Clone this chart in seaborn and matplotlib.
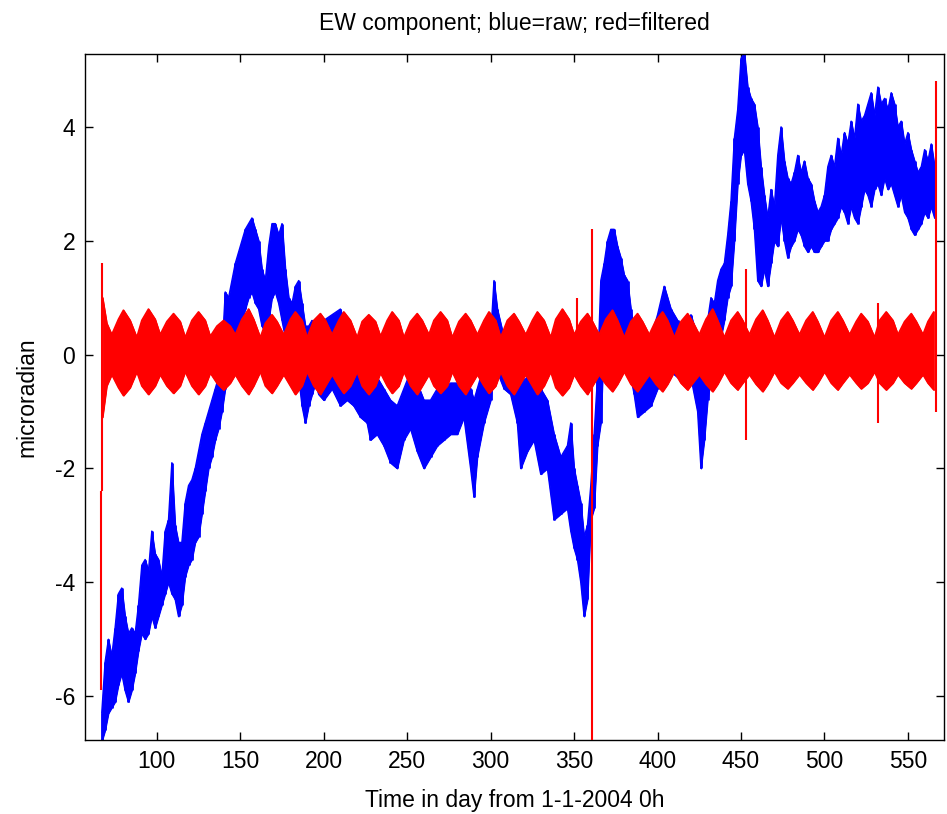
import numpy as np
import pandas as pd
import matplotlib
matplotlib.use("Agg")
import matplotlib.pyplot as plt
import seaborn as sns

# Raw (blue) signal envelope: day, lower, upper
blue_days = [67, 69, 71, 73, 75, 77, 79, 81, 83, 85, 87, 89, 91, 93, 95, 97, 99,
             101, 103, 105, 107, 109, 111, 113, 115, 117, 119, 121, 123, 125, 127,
             129, 131, 133, 135, 137, 139, 141, 143, 145, 147, 149, 151, 153, 155,
             157, 159, 161, 163, 165, 167, 169, 171, 173, 175, 177, 179, 181, 183,
             185, 187, 189, 191, 193, 195, 197, 200, 205, 210, 214, 218, 222, 226,
             228, 232, 236, 240, 244, 248, 252, 256, 260, 264, 268, 272, 276, 280,
             284, 288, 290, 292, 296, 300, 302, 304, 308, 312, 316, 318, 322, 326,
             330, 334, 338, 342, 346, 348, 350, 352, 354, 356, 358, 360, 362, 364,
             366, 368, 370, 372, 374, 376, 378, 380, 382, 384, 386, 388, 392, 396,
             400, 404, 408, 412, 416, 420, 424, 426, 428, 430, 432, 434, 436, 438,
             440, 442, 444, 446, 448, 450, 452, 454, 456, 458, 460, 462, 464, 466,
             468, 470, 472, 474, 476, 478, 480, 482, 484, 486, 488, 490, 492, 494,
             496, 498, 500, 502, 504, 506, 508, 510, 512, 514, 516, 518, 520, 522,
             524, 526, 528, 530, 532, 534, 536, 538, 540, 542, 544, 546, 548, 550,
             552, 554, 556, 558, 560, 562, 564, 566]
blue_low = [-6.8, -6.6, -6.3, -6.2, -6.1, -5.8, -5.6, -5.9, -6.1, -5.9, -5.6, -5.2,
            -4.9, -5.0, -4.9, -4.6, -4.8, -4.6, -4.4, -4.2, -4.0, -4.2, -4.3, -4.6,
            -4.4, -3.9, -3.7, -3.6, -3.3, -3.2, -2.8, -2.4, -2.0, -1.8, -1.5, -1.3,
            -1.0, -0.6, -0.2, 0.1, 0.3, 0.5, 0.6, 0.8, 1.0, 1.1, 0.9, 0.8, 0.5, 0.4,
            0.6, 1.0, 1.1, 0.9, 0.6, 0.3, 0.2, 0.0, -0.2, -0.4, -0.9, -1.2, -0.9,
            -0.7, -0.5, -0.7, -0.8, -0.6, -0.9, -0.8, -0.9, -1.1, -1.2, -1.5, -1.4,
            -1.6, -1.9, -2.0, -1.5, -1.3, -1.7, -2.0, -1.8, -1.6, -1.5, -1.4, -1.4,
            -1.1, -2.0, -2.5, -1.8, -1.2, -0.8, -0.2, -0.3, -0.6, -0.7, -1.2, -2.0,
            -1.7, -1.5, -2.1, -2.0, -2.9, -2.8, -2.7, -3.1, -3.4, -3.6, -4.0, -4.6,
            -4.3, -2.9, -2.7, -1.6, -1.2, 0.3, 0.6, 0.8, 0.7, 0.4, 0.5, 0.3, 0.0,
            -0.4, -0.7, -1.1, -1.0, -0.9, -0.6, -0.3, -0.3, -0.4, -0.5, -0.4, -1.0,
            -2.0, -1.5, -0.8, -0.4, -0.3, 0.0, 0.3, 0.6, 1.0, 1.2, 2.0, 3.0, 3.5,
            3.6, 3.0, 2.7, 2.2, 1.3, 1.2, 1.5, 1.2, 1.6, 2.0, 1.9, 2.4, 2.0, 1.7,
            1.9, 2.0, 2.2, 2.1, 1.9, 1.8, 1.9, 1.8, 1.8, 1.9, 2.0, 2.0, 2.2, 2.3,
            2.4, 2.6, 2.5, 2.3, 2.6, 2.4, 2.3, 2.6, 2.9, 2.8, 2.6, 2.9, 3.0, 2.8,
            3.1, 2.9, 3.0, 2.8, 2.6, 2.8, 2.5, 2.4, 2.2, 2.1, 2.2, 2.3, 2.5, 2.4,
            2.6, 2.4]
blue_high = [-6.3, -5.4, -5.0, -5.3, -4.8, -4.2, -4.1, -4.6, -4.9, -4.8, -4.9, -4.4,
             -3.7, -3.6, -3.8, -3.1, -3.5, -3.6, -3.9, -3.1, -2.9, -1.9, -3.0, -3.3,
             -3.3, -2.6, -2.3, -2.2, -2.0, -1.7, -1.4, -1.2, -1.0, -0.8, -0.6, -0.4,
             0.0, 1.1, 1.0, 1.3, 1.6, 1.8, 2.0, 2.2, 2.3, 2.4, 2.2, 2.0, 1.5, 1.3,
             1.9, 2.3, 2.3, 2.1, 2.3, 1.5, 1.0, 0.9, 1.2, 1.3, 0.9, 0.5, 0.5, 0.6,
             0.4, 0.5, 0.6, 0.7, 0.8, 0.4, 0.3, 0.2, 0.1, -0.2, -0.4, -0.6, -0.8,
             -0.9, -0.6, -0.3, -0.5, -0.8, -0.8, -0.6, -0.6, -0.5, -0.5, -0.3, -0.6,
             -0.8, -0.6, -0.2, 0.3, 1.3, 0.8, 0.3, 0.4, 0.0, -0.5, -0.4, -0.3, -0.6,
             -0.8, -1.4, -1.8, -1.6, -1.2, -2.0, -2.3, -2.6, -3.2, -3.0, -2.3, -1.4,
             -0.4, 1.3, 1.6, 2.0, 2.2, 2.2, 1.9, 1.7, 1.4, 1.3, 0.8, 0.3, 0.2, 0.0,
             0.3, 0.7, 1.2, 0.8, 0.6, 0.4, 0.7, 0.3, -0.3, -0.2, 0.6, 1.0, 0.9, 1.3,
             1.5, 1.6, 2.1, 2.7, 3.8, 4.3, 5.2, 5.3, 4.7, 4.5, 4.4, 4.0, 3.3, 2.8,
             2.4, 2.9, 2.6, 3.5, 4.0, 3.4, 3.1, 3.0, 3.2, 3.5, 3.2, 3.4, 3.1, 3.0,
             2.7, 2.5, 2.6, 2.8, 3.3, 3.5, 3.3, 3.8, 3.5, 3.9, 3.7, 4.1, 3.8, 4.4,
             4.1, 4.2, 4.4, 4.6, 4.2, 4.7, 4.4, 4.5, 4.3, 4.6, 4.4, 4.0, 4.1, 3.7,
             3.9, 3.6, 3.4, 3.2, 3.3, 3.6, 3.4, 3.7, 3.3]

# Filtered (red) signal envelope, one value every ~3.7 days (neap, rise, spring, fall)
red_days = [67.5, 70, 73, 77, 80, 84, 88, 91, 95, 99, 102, 106, 110, 114, 117,
            121, 125, 129, 132, 136, 140, 144, 147, 151, 155, 158, 162, 165, 169,
            172, 176, 180, 183, 187, 190, 194, 198, 201, 205, 209, 212, 216, 220,
            223, 227, 231, 234, 238, 241, 245, 248, 252, 256, 259, 263, 266, 270,
            274, 277, 281, 285, 288, 292, 296, 299, 303, 306, 310, 314, 317, 321,
            325, 328, 332, 336, 339, 343, 347, 350, 354, 358, 361, 365, 369, 373,
            376, 380, 384, 388, 391, 395, 399, 403, 406, 410, 414, 418, 421, 425,
            429, 433, 436, 440, 444, 448, 451, 455, 459, 463, 466, 470, 474, 478,
            481, 485, 489, 493, 496, 500, 504, 508, 511, 515, 519, 522, 526, 530,
            533, 537, 541, 544, 548, 552, 555, 559, 562, 565.5]
red_high = [1.0, 0.55, 0.35, 0.62, 0.78, 0.6, 0.3, 0.6, 0.8, 0.62, 0.35, 0.58,
            0.72, 0.58, 0.3, 0.6, 0.75, 0.6, 0.32, 0.5, 0.6, 0.5, 0.35, 0.62,
            0.8, 0.62, 0.3, 0.55, 0.7, 0.58, 0.35, 0.62, 0.75, 0.6, 0.3, 0.6,
            0.72, 0.6, 0.35, 0.6, 0.75, 0.6, 0.3, 0.58, 0.7, 0.58, 0.32, 0.6,
            0.75, 0.6, 0.3, 0.58, 0.72, 0.6, 0.35, 0.6, 0.75, 0.6, 0.3, 0.58,
            0.72, 0.6, 0.35, 0.6, 0.75, 0.6, 0.3, 0.6, 0.72, 0.58, 0.35, 0.6,
            0.75, 0.6, 0.3, 0.62, 0.8, 0.62, 0.35, 0.58, 0.72, 0.58, 0.35, 0.62,
            0.78, 0.6, 0.3, 0.58, 0.72, 0.58, 0.35, 0.6, 0.75, 0.6, 0.3, 0.58,
            0.72, 0.58, 0.35, 0.62, 0.8, 0.6, 0.3, 0.6, 0.75, 0.6, 0.35, 0.62,
            0.78, 0.6, 0.3, 0.6, 0.75, 0.6, 0.35, 0.6, 0.75, 0.58, 0.3, 0.6,
            0.75, 0.6, 0.35, 0.58, 0.72, 0.58, 0.3, 0.6, 0.75, 0.6, 0.35, 0.58,
            0.72, 0.58, 0.35, 0.58, 0.75]
red_low = [-1.1, -0.55, -0.35, -0.58, -0.72, -0.58, -0.3, -0.55, -0.7, -0.55,
           -0.35, -0.55, -0.68, -0.55, -0.3, -0.55, -0.7, -0.55, -0.32, -0.5,
           -0.62, -0.5, -0.35, -0.55, -0.7, -0.55, -0.3, -0.55, -0.68, -0.55,
           -0.35, -0.55, -0.7, -0.55, -0.3, -0.55, -0.7, -0.55, -0.35, -0.55,
           -0.68, -0.55, -0.3, -0.55, -0.7, -0.55, -0.32, -0.55, -0.68, -0.55,
           -0.3, -0.55, -0.7, -0.55, -0.35, -0.55, -0.68, -0.55, -0.3, -0.55,
           -0.7, -0.55, -0.35, -0.55, -0.68, -0.55, -0.3, -0.55, -0.7, -0.55,
           -0.35, -0.55, -0.7, -0.55, -0.3, -0.58, -0.72, -0.58, -0.35, -0.55,
           -0.7, -0.55, -0.35, -0.52, -0.65, -0.52, -0.3, -0.52, -0.65, -0.52,
           -0.35, -0.52, -0.65, -0.52, -0.3, -0.5, -0.62, -0.5, -0.35, -0.52,
           -0.65, -0.52, -0.3, -0.5, -0.62, -0.5, -0.35, -0.52, -0.65, -0.52,
           -0.3, -0.5, -0.6, -0.5, -0.35, -0.5, -0.62, -0.5, -0.3, -0.5, -0.62,
           -0.5, -0.35, -0.5, -0.6, -0.5, -0.3, -0.5, -0.62, -0.5, -0.35, -0.5,
           -0.6, -0.5, -0.35, -0.5, -0.62]

# Isolated spikes of the filtered signal
spike_days = [66.5, 67.3, 360.6, 352, 453, 532, 566.6]
spike_low = [-5.9, -2.4, -6.8, 0.0, -1.5, -1.2, -1.0]
spike_high = [-2.4, 1.6, 2.2, 1.0, 1.5, 0.9, 4.8]

n_red = min(len(red_days), len(red_high), len(red_low))
blue = pd.DataFrame({"day": blue_days, "low": blue_low, "high": blue_high})
red = pd.DataFrame({"day": red_days[:n_red], "low": red_low[:n_red],
                    "high": red_high[:n_red]})

sns.set_style("ticks")
plt.rcParams["font.family"] = ["Liberation Sans", "DejaVu Sans"]
plt.rcParams["text.color"] = "black"
plt.rcParams["axes.labelcolor"] = "black"
plt.rcParams["axes.unicode_minus"] = False

fig = plt.figure(figsize=(9.47, 8.14), dpi=100)
ax = fig.add_axes([0.0898, 0.0909, 0.907, 0.8428])

# raw
ax.fill_between(blue["day"], blue["low"], blue["high"], color="#0000ff",
                lw=0.8, zorder=1)
ax.vlines(blue["day"], blue["low"], blue["high"], color="#0000ff", lw=2,
          zorder=1)
sns.lineplot(data=blue, x="day", y="high", color="#0000ff", lw=1,
             estimator=None, ax=ax, zorder=1)
sns.lineplot(data=blue, x="day", y="low", color="#0000ff", lw=1,
             estimator=None, ax=ax, zorder=1)

# filtered
ax.fill_between(red["day"], red["low"], red["high"], color="#ff0000",
                lw=0.8, zorder=3)
sns.lineplot(data=red, x="day", y="high", color="#ff0000", lw=1.2,
             estimator=None, ax=ax, zorder=3)
sns.lineplot(data=red, x="day", y="low", color="#ff0000", lw=1.2,
             estimator=None, ax=ax, zorder=3)
ax.vlines(spike_days, spike_low, spike_high, color="#ff0000", lw=1.5, zorder=4)

ax.set_xlim(57, 571.6)
ax.set_ylim(-6.77, 5.28)
ax.set_xticks([100, 150, 200, 250, 300, 350, 400, 450, 500, 550])
ax.set_yticks([-6, -4, -2, 0, 2, 4])
ax.tick_params(direction="in", length=6, width=1, top=True, right=True,
               labelsize=16.5, colors="black", labelcolor="black", pad=7)
for s in ax.spines.values():
    s.set_visible(True)
    s.set_linewidth(1)
    s.set_color("black")

ax.set_title("EW component; blue=raw; red=filtered", fontsize=16.5, pad=17,
             color="black")
ax.set_xlabel("Time in day from 1-1-2004 0h", fontsize=16.5, labelpad=12,
              color="black")
ax.set_ylabel("microradian", fontsize=16.5, labelpad=12, color="black")

fig.savefig("out.png", dpi=100)
